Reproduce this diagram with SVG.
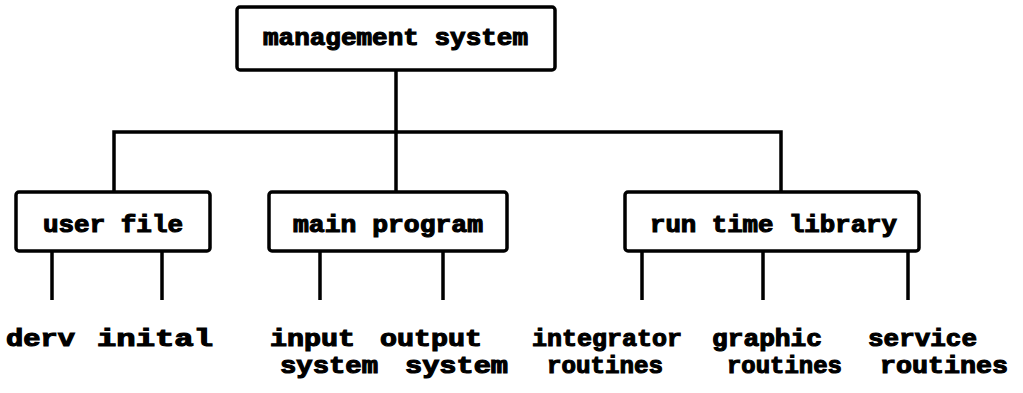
<svg xmlns="http://www.w3.org/2000/svg" width="1023" height="393" viewBox="0 0 1023 393">
  <style>
    .box { fill: #fff; stroke: #000; stroke-width: 3.5; }
    .wire { fill: none; stroke: #000; stroke-width: 3.5; stroke-linecap: butt; }
    .lbl { font-family: "Liberation Mono", "Courier New", monospace; font-weight: bold; font-size: 23px; fill: #000; stroke: #000; stroke-width: 1.1; }
  </style>
  <rect width="1023" height="393" fill="#fff"/>

  <!-- tree connectors -->
  <g id="connectors" class="wire">
    <path d="M396 70 V132"/>
    <path d="M114 192 V132 H781 V192"/>
    <path d="M396 132 V192"/>
    <path d="M52 251 V300 M162 251 V300"/>
    <path d="M320 251 V300 M443 251 V300"/>
    <path d="M642 251 V300 M763 251 V300 M908 251 V300"/>
  </g>

  <g id="management-system">
    <rect class="box" x="237" y="7" width="318" height="63" rx="3"/>
    <text class="lbl" x="263" y="45" textLength="265" lengthAdjust="spacingAndGlyphs">management system</text>
  </g>

  <g id="user-file">
    <rect class="box" x="16" y="192" width="194" height="59" rx="3"/>
    <text class="lbl" x="43" y="232" textLength="140" lengthAdjust="spacingAndGlyphs">user file</text>
  </g>

  <g id="main-program">
    <rect class="box" x="269" y="192" width="238" height="59" rx="3"/>
    <text class="lbl" x="293" y="232" textLength="190" lengthAdjust="spacingAndGlyphs">main program</text>
  </g>

  <g id="run-time-library">
    <rect class="box" x="625" y="192" width="294" height="59" rx="3"/>
    <text class="lbl" x="650" y="232" textLength="247" lengthAdjust="spacingAndGlyphs">run time library</text>
  </g>

  <g id="derv"><text class="lbl" x="6" y="346" textLength="69" lengthAdjust="spacingAndGlyphs">derv</text></g>
  <g id="inital"><text class="lbl" x="97" y="346" textLength="116" lengthAdjust="spacingAndGlyphs">inital</text></g>
  <g id="input-system">
    <text class="lbl" x="270" y="346" textLength="85" lengthAdjust="spacingAndGlyphs">input</text>
    <text class="lbl" x="280" y="373" textLength="98" lengthAdjust="spacingAndGlyphs">system</text>
  </g>
  <g id="output-system">
    <text class="lbl" x="380" y="346" textLength="102" lengthAdjust="spacingAndGlyphs">output</text>
    <text class="lbl" x="405" y="373" textLength="103" lengthAdjust="spacingAndGlyphs">system</text>
  </g>
  <g id="integrator-routines">
    <text class="lbl" x="532" y="346" textLength="150" lengthAdjust="spacingAndGlyphs">integrator</text>
    <text class="lbl" x="547" y="373" textLength="116" lengthAdjust="spacingAndGlyphs">routines</text>
  </g>
  <g id="graphic-routines">
    <text class="lbl" x="712" y="346" textLength="110" lengthAdjust="spacingAndGlyphs">graphic</text>
    <text class="lbl" x="727" y="373" textLength="115" lengthAdjust="spacingAndGlyphs">routines</text>
  </g>
  <g id="service-routines">
    <text class="lbl" x="868" y="346" textLength="109" lengthAdjust="spacingAndGlyphs">service</text>
    <text class="lbl" x="880" y="373" textLength="128" lengthAdjust="spacingAndGlyphs">routines</text>
  </g>
</svg>
